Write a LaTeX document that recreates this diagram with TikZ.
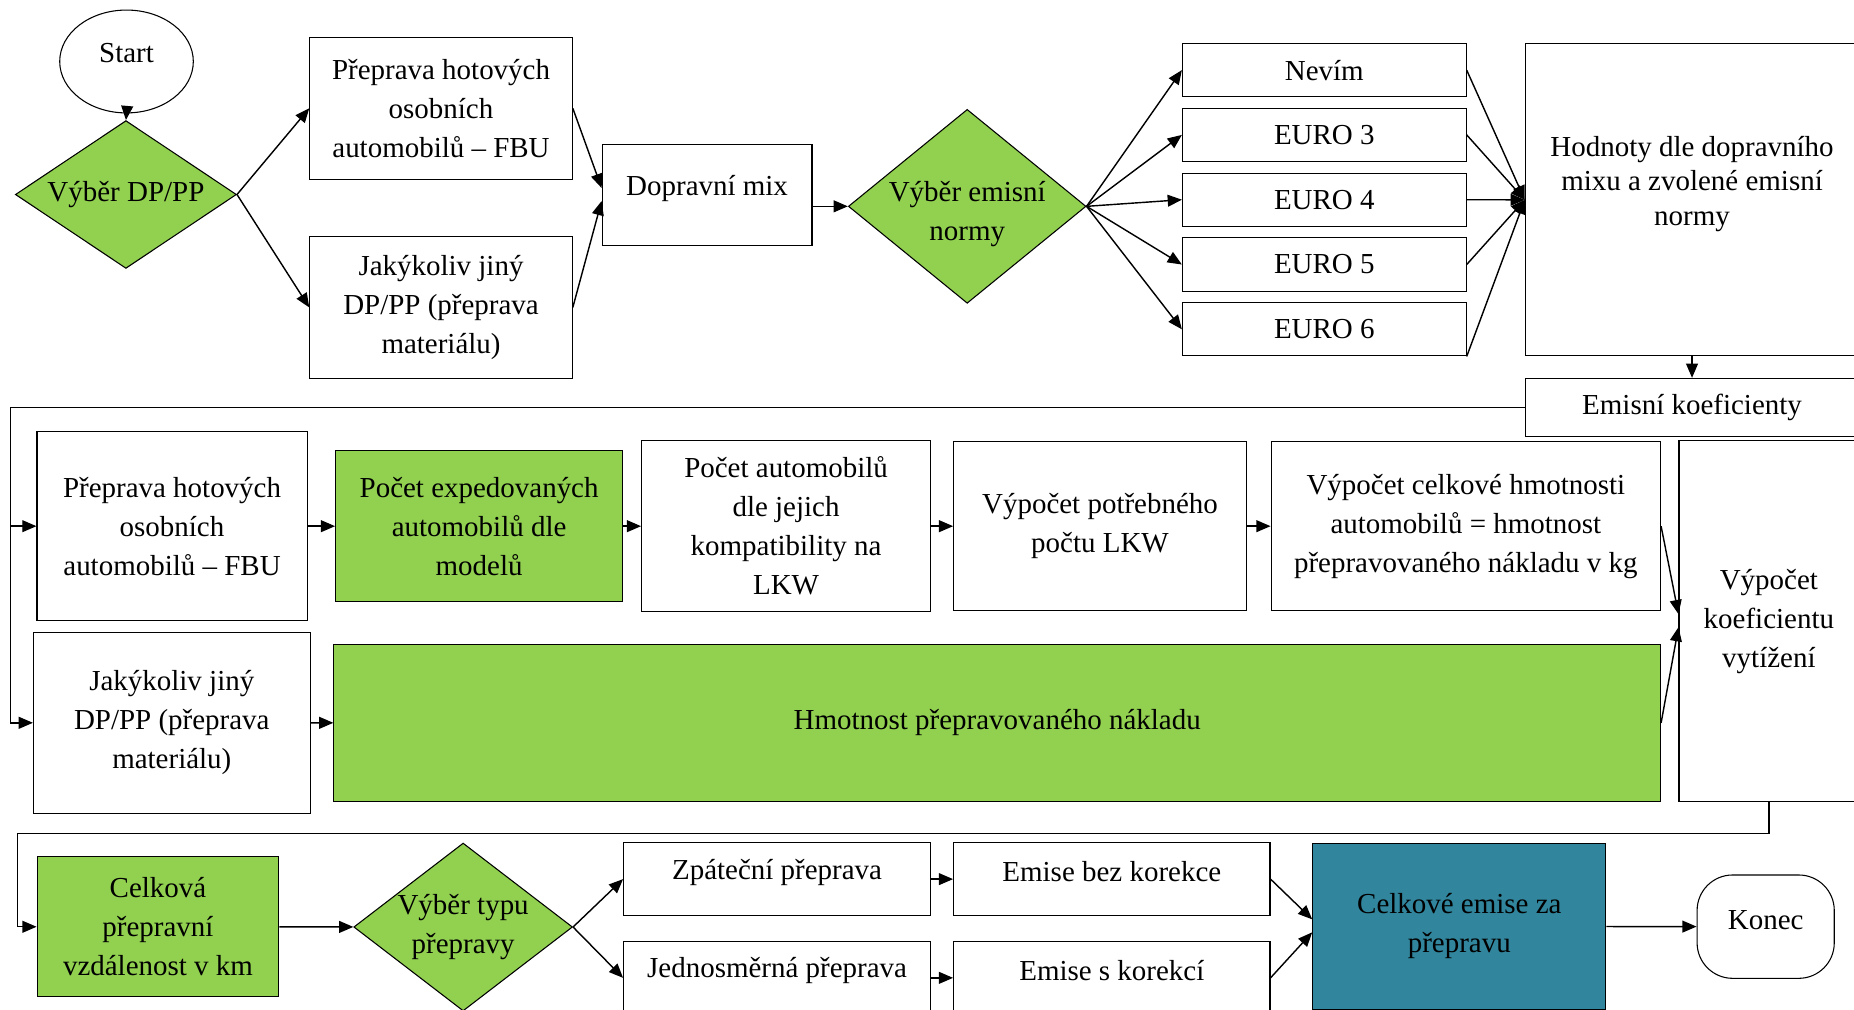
\documentclass[tikz,border=0pt]{standalone}
\usepackage{fontspec}
\setmainfont{Liberation Serif}
\usepackage{tikz}
\usetikzlibrary{arrows.meta, positioning, shapes.geometric}
\definecolor{dpGreen}{HTML}{92D050}
\definecolor{dpTeal}{HTML}{31859C}

\begin{document}
\begin{tikzpicture}[
  x=1pt, y=-1pt,
  every node/.style={font=\fontsize{24.5}{33}\selectfont},
  op/.style={draw, fill=#1, line width=0.9pt, align=center, inner sep=0pt},
  op/.default=white,
  wh/.style 2 args={minimum width=#1, minimum height=#2},
  dec/.style={diamond, draw, fill=dpGreen, line width=0.9pt, inner sep=0pt},
  lifted/.style={text depth=#1},
  arr/.style={-{Triangle[length=12pt, width=10pt]}, line width=1.2pt},
  ln/.style={line width=1.2pt},
]
  \useasboundingbox (0,0) rectangle (1568,854);
  \clip (0,0) rectangle (1568,854);

  % row 1: choice of transport and emission standard
  \node[ellipse, draw, line width=0.9pt, wh={113pt}{87pt}, lifted=14pt] (start) at (107,52) {Start};
  \node[dec, wh={187pt}{125pt}, label={center:Výběr DP/PP}] (d1) at (106.5,164.5) {};
  \node[op, wh={222pt}{120pt}] (fbu1) at (373,91.6) {Přeprava hotových\\osobních\\automobilů – FBU};
  \node[op, wh={222pt}{120pt}] (jiny1) at (373,260) {Jakýkoliv jiný\\DP/PP (přeprava\\materiálu)};
  \node[op, wh={177.5pt}{86pt}, lifted=17pt] (dmix) at (598,165) {Dopravní mix};
  \node[dec, wh={201pt}{164pt}, label={[align=center, yshift=-6.5pt]center:{Výběr emisní\\normy}}] (d2) at (818,174.5) {};

  \node[op, wh={240pt}{45pt}] (nevim) at (1120,59.3) {Nevím};
  \node[op, wh={240pt}{45pt}, below=8.9pt of nevim] (euro3) {EURO 3};
  \node[op, wh={240pt}{45pt}, below=8.9pt of euro3] (euro4) {EURO 4};
  \node[op, wh={240pt}{45pt}, below=8.9pt of euro4] (euro5) {EURO 5};
  \node[op, wh={240pt}{45pt}, below=8.9pt of euro5] (euro6) {EURO 6};

  \node[op, wh={282pt}{264pt}, label={[align=center, yshift=13.5pt, font=\fontsize{24.5}{29}\selectfont]center:{Hodnoty dle dopravního\\mixu a zvolené emisní\\normy}}] (hodnoty) at (1431,169) {};
  \node[op, wh={282pt}{49pt}] (emkoef) at (1431,344.5) {Emisní koeficienty};

  % row 2: load factor
  \node[op, wh={228.4pt}{160pt}] (fbu2) at (145.5,445) {Přeprava hotových\\osobních\\automobilů – FBU};
  \node[op, wh={234pt}{153pt}] (jiny2) at (145.3,611.3) {Jakýkoliv jiný\\DP/PP (přeprava\\materiálu)};
  \node[op=dpGreen, wh={242.7pt}{127.7pt}] (pocexp) at (405.2,445) {Počet expedovaných\\automobilů dle\\modelů};
  \node[op, wh={244.3pt}{145pt}] (pocaut) at (664.8,445) {Počet automobilů\\dle jejich\\kompatibility na\\LKW};
  \node[op, wh={247.5pt}{142.5pt}] (potreb) at (930.3,445) {Výpočet potřebného\\počtu LKW};
  \node[op, wh={329.4pt}{142.5pt}] (celkhm) at (1239.7,445) {Výpočet celkové hmotnosti\\automobilů = hmotnost\\přepravovaného nákladu v kg};
  \node[op, wh={152pt}{305pt}] (koef) at (1496,525.4) {Výpočet\\koeficientu\\vytížení};
  \node[op=dpGreen, wh={1122pt}{133pt}] (hmot) at (843.4,611.4) {Hmotnost přepravovaného nákladu};

  % row 3: distance and total emissions
  \node[op=dpGreen, wh={204.4pt}{118.5pt}] (celkvz) at (133.6,783.8) {Celková\\přepravní\\vzdálenost v km};
  \node[dec, wh={185pt}{142pt}, label={[align=center]center:{Výběr typu\\přepravy}}] (d3) at (391.7,784) {};
  \node[op, wh={259.6pt}{61.2pt}, lifted=17pt] (zpat) at (657.2,743.5) {Zpáteční přeprava};
  \node[op, wh={259.6pt}{61.2pt}, lifted=17pt] (jedn) at (657.2,827) {Jednosměrná přeprava};
  \node[op, wh={267.6pt}{62pt}, lifted=13pt] (embez) at (940.3,743.5) {Emise bez korekce};
  \node[op, wh={267.6pt}{62pt}, lifted=12pt] (emskor) at (940.3,827) {Emise s korekcí};
  \node[op=dpTeal, wh={248pt}{141pt}] (celkem) at (1234.2,783.5) {Celkové emise za\\přepravu};
  \node[op, rounded corners=30pt, wh={116pt}{87.4pt}, lifted=11pt] (konec) at (1493.3,783.7) {Konec};

  \draw[arr] (start.south) -- (d1.north);
  \draw[arr] (d1.east) -- (fbu1.west);
  \draw[arr] (d1.east) -- (jiny1.west);
  \draw[arr] (fbu1.east) -- ([yshift=6pt]dmix.west);
  \draw[arr] (jiny1.east) -- ([yshift=-5pt]dmix.west);
  \draw[arr] (dmix.east |- d2.west) -- (d2.west);
  \foreach \n in {nevim,euro3,euro4,euro5,euro6}
    \draw[arr] (d2.east) -- (\n.west);
  \foreach \n in {nevim,euro3,euro4,euro5}
    \draw[arr] (\n.east) -- (hodnoty.west);
  \draw[arr] (euro6.south east) -- (hodnoty.west);
  \draw[arr] (hodnoty.south) -- (emkoef.north);

  \coordinate (busL) at (9,344.5);
  \draw[ln] (emkoef.west) -- (busL);
  \draw[arr] (busL) |- (fbu2.west);
  \draw[arr] (busL) |- (jiny2.west);
  \draw[arr] (fbu2) -- (pocexp);
  \draw[arr] (jiny2) -- (hmot);
  \draw[arr] (pocexp) -- (pocaut);
  \draw[arr] (pocaut) -- (potreb);
  \draw[arr] (potreb) -- (celkhm);
  \draw[arr] (celkhm.east) -- ([yshift=6pt]koef.west);
  \draw[arr] (hmot.east) -- ([yshift=-5pt]koef.west);

  \coordinate (busB) at (15,704.8);
  \draw[arr] (koef.south) |- (busB) |- (celkvz.west);
  \draw[arr] (celkvz) -- (d3);
  \draw[arr] (d3.east) -- (zpat.west);
  \draw[arr] (d3.east) -- (jedn.west);
  \draw[arr] (zpat) -- (embez);
  \draw[arr] (jedn) -- (emskor);
  \draw[arr] (embez.east) -- ([yshift=6pt]celkem.west);
  \draw[arr] (emskor.east) -- ([yshift=-5pt]celkem.west);
  \draw[arr] (celkem) -- (konec);
\end{tikzpicture}
\end{document}
